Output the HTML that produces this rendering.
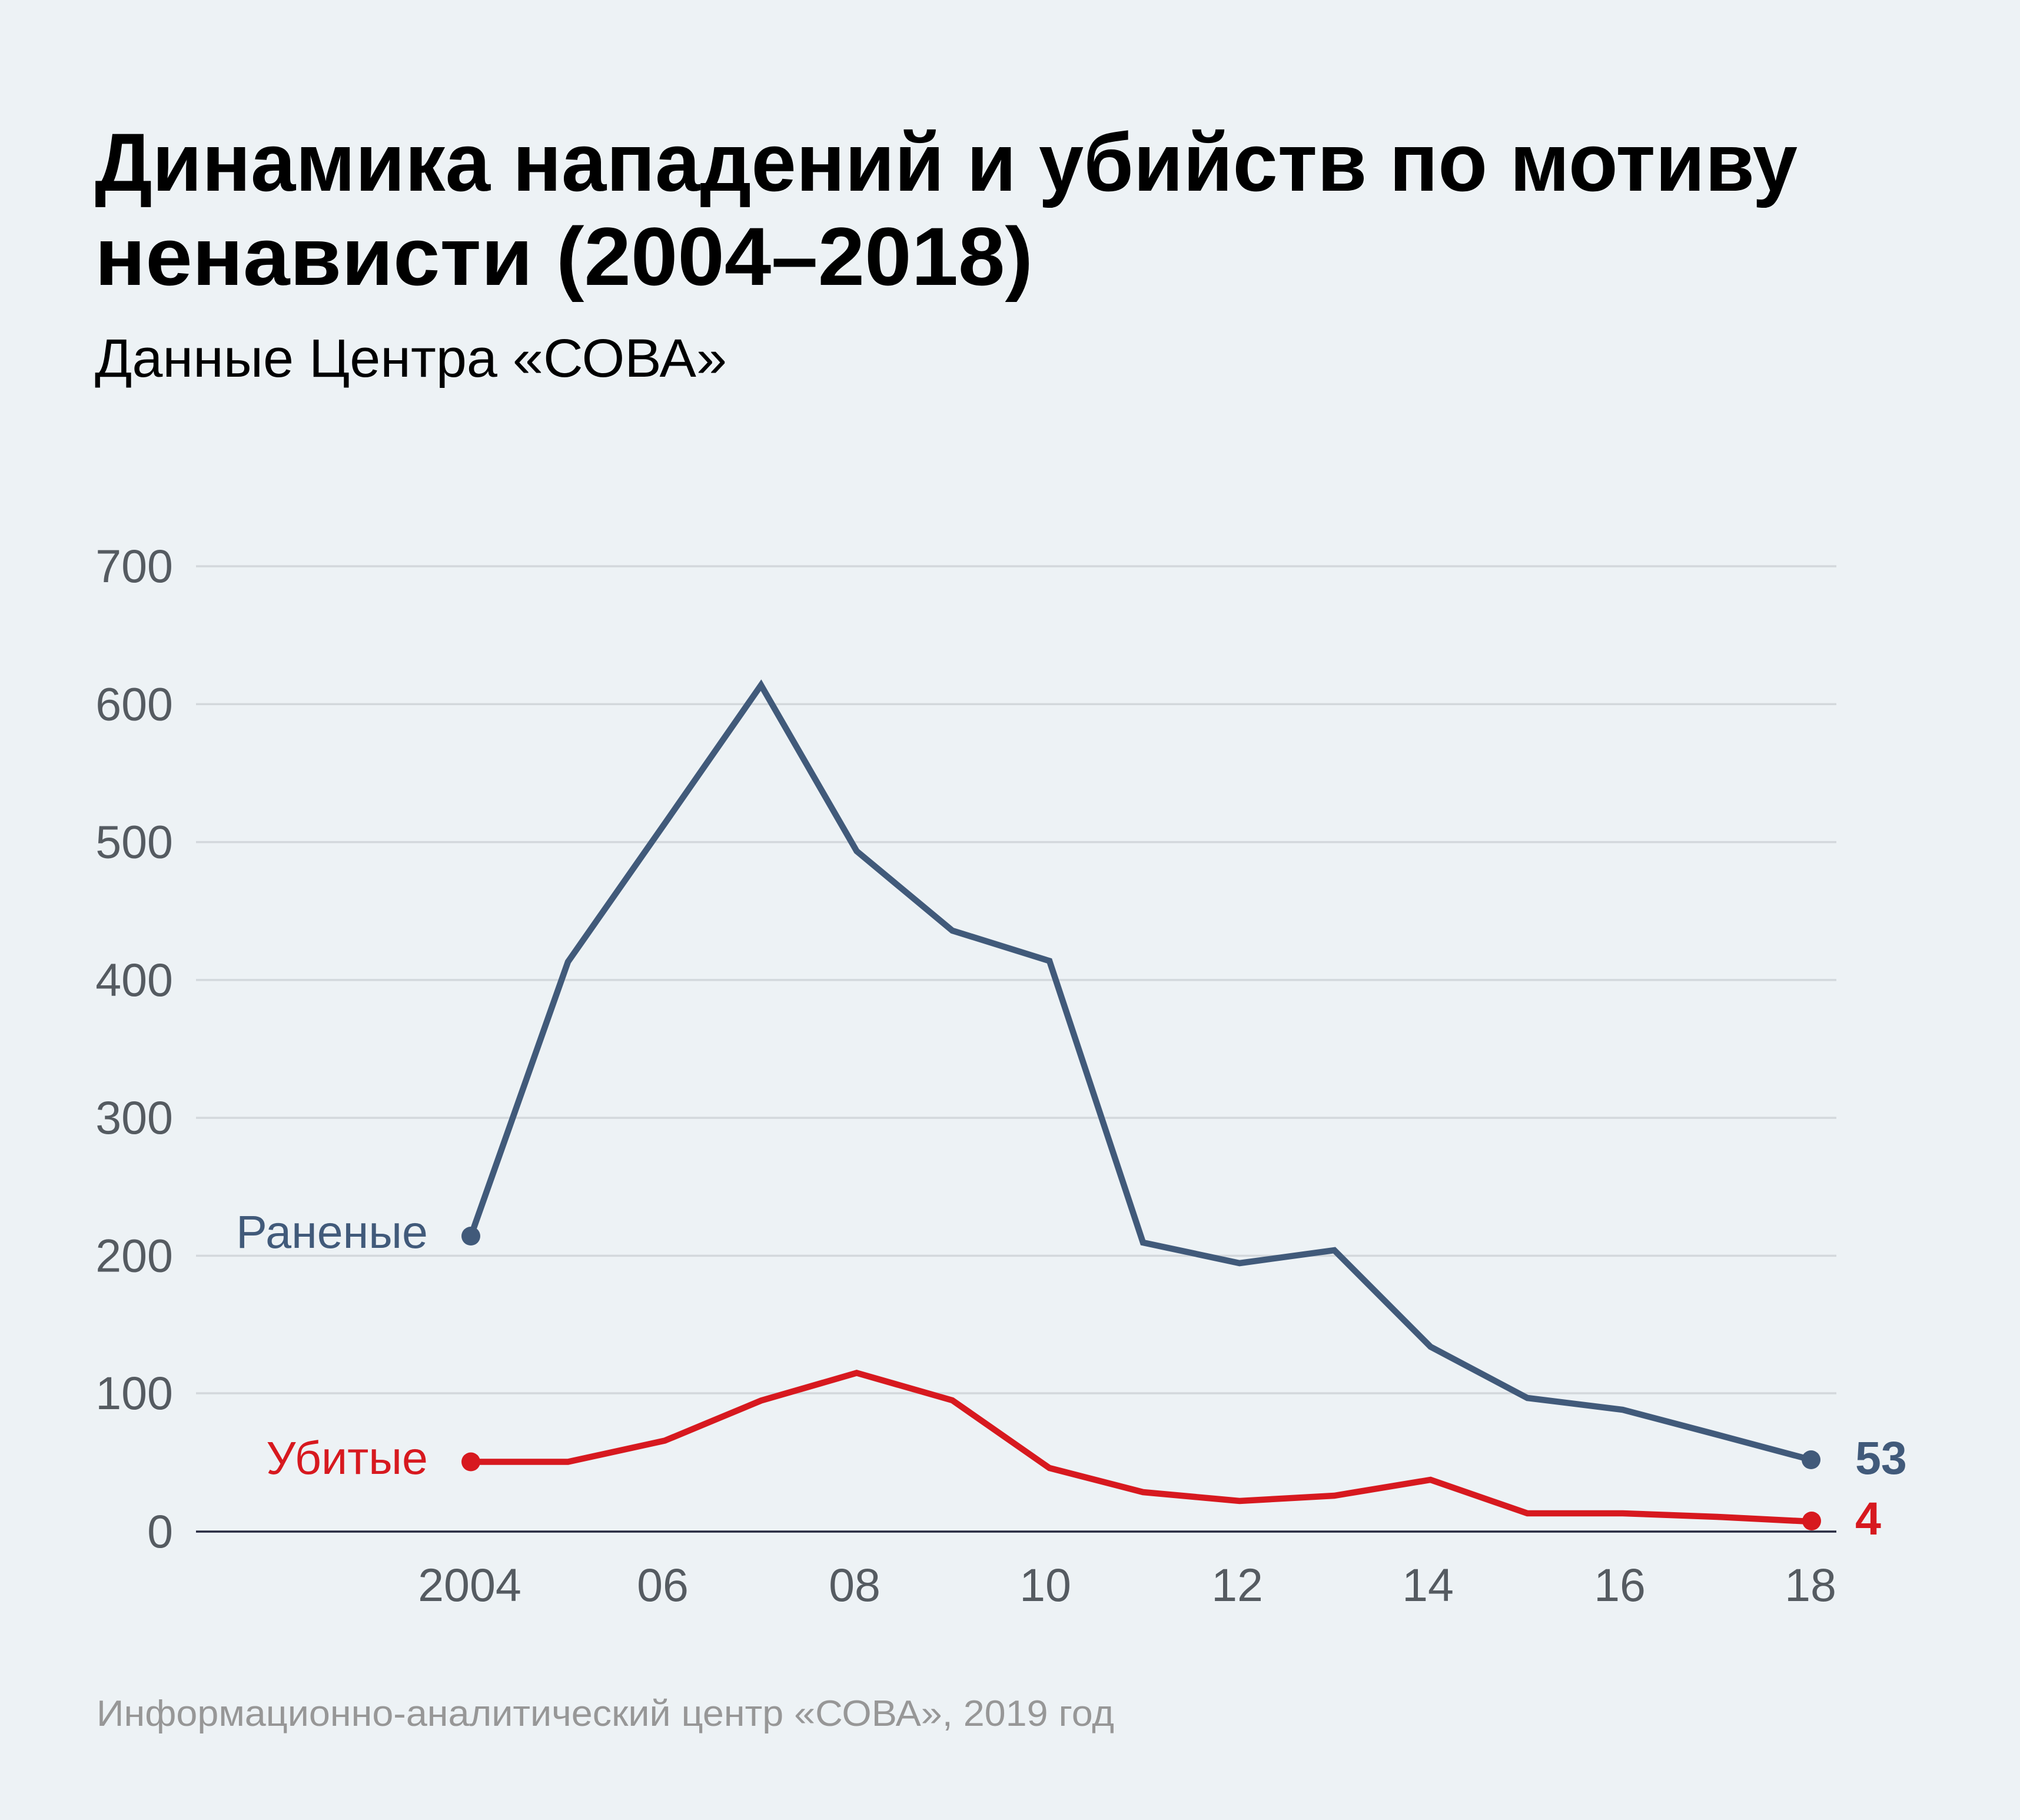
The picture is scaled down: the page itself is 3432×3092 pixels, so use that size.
<!DOCTYPE html>
<html>
<head>
<meta charset="utf-8">
<style>
  html, body { margin: 0; padding: 0; background: #edf2f5; }
  body { width: 3432px; height: 3092px; overflow: hidden; }
  svg { display: block; }
  text { font-family: "Liberation Sans", "DejaVu Sans", sans-serif; }
</style>
</head>
<body>
<svg width="3432" height="3092" viewBox="0 0 3432 3092" xmlns="http://www.w3.org/2000/svg">
  <rect x="0" y="0" width="3432" height="3092" fill="#edf2f5"/>

  <!-- Title -->
  <text x="161" y="324" font-size="140" font-weight="bold" fill="#000" textLength="2893" lengthAdjust="spacingAndGlyphs">Динамика нападений и убийств по мотиву</text>
  <text x="161" y="484" font-size="140" font-weight="bold" fill="#000" textLength="1594" lengthAdjust="spacingAndGlyphs">ненависти (2004–2018)</text>
  <!-- Subtitle -->
  <text x="161" y="640" font-size="92" fill="#000" textLength="1074" lengthAdjust="spacingAndGlyphs">Данные Центра «СОВА»</text>

  <!-- Gridlines -->
  <g stroke="#d3d8dc" stroke-width="3.5">
    <line x1="333" y1="962" x2="3120" y2="962"/>
    <line x1="333" y1="1196.3" x2="3120" y2="1196.3"/>
    <line x1="333" y1="1430.6" x2="3120" y2="1430.6"/>
    <line x1="333" y1="1664.9" x2="3120" y2="1664.9"/>
    <line x1="333" y1="1899.1" x2="3120" y2="1899.1"/>
    <line x1="333" y1="2133.4" x2="3120" y2="2133.4"/>
    <line x1="333" y1="2367" x2="3120" y2="2367"/>
  </g>
  <!-- Zero axis -->
  <line x1="333" y1="2602" x2="3120" y2="2602" stroke="#272a40" stroke-width="3.5"/>

  <!-- Y tick labels -->
  <g font-size="79" fill="#555b61" text-anchor="end">
    <text x="294" y="989">700</text>
    <text x="294" y="1223.3">600</text>
    <text x="294" y="1457.6">500</text>
    <text x="294" y="1691.9">400</text>
    <text x="294" y="1926.1">300</text>
    <text x="294" y="2160.4">200</text>
    <text x="294" y="2394">100</text>
    <text x="294" y="2629">0</text>
  </g>

  <!-- X tick labels -->
  <g font-size="79" fill="#555b61" text-anchor="middle">
    <text x="798" y="2720">2004</text>
    <text x="1126" y="2720">06</text>
    <text x="1452" y="2720">08</text>
    <text x="1776" y="2720">10</text>
    <text x="2102" y="2720">12</text>
    <text x="2426" y="2720">14</text>
    <text x="2752" y="2720">16</text>
    <text x="3076" y="2720">18</text>
  </g>

  <!-- Injured series (blue) -->
  <polyline fill="none" stroke="#415a7a" stroke-width="10.5" stroke-linejoin="miter" stroke-miterlimit="10"
    points="800,2100 965,1634 1129.5,1399 1293,1164 1455.5,1446 1618,1581 1783,1632.5 1942,2111 2106,2146 2267,2124 2430.5,2288 2595,2375 2757,2395 2918,2437.5 3077,2480"/>
  <circle cx="800" cy="2100" r="16" fill="#415a7a"/>
  <circle cx="3077" cy="2480" r="16" fill="#415a7a"/>

  <!-- Killed series (red) -->
  <polyline fill="none" stroke="#d7191f" stroke-width="10.5" stroke-linejoin="miter" stroke-miterlimit="10"
    points="800,2483.5 965,2483.5 1129.5,2447.5 1293,2379.5 1455.5,2332.5 1618,2379 1783,2494 1942,2535 2106,2550 2267,2541 2430.5,2514 2595,2571 2757,2571 2918,2577 3077,2585"/>
  <circle cx="800" cy="2483.5" r="16" fill="#d7191f"/>
  <circle cx="3078" cy="2584" r="16" fill="#d7191f"/>

  <!-- Series labels -->
  <text x="727" y="2120" font-size="79" fill="#415a7a" text-anchor="end">Раненые</text>
  <text x="727" y="2504" font-size="79" fill="#d7191f" text-anchor="end">Убитые</text>

  <!-- End values -->
  <text x="3152" y="2504" font-size="79" font-weight="bold" fill="#415a7a">53</text>
  <text x="3152" y="2607" font-size="79" font-weight="bold" fill="#d7191f">4</text>

  <!-- Footer -->
  <text x="164" y="2932" font-size="62" fill="#979797" textLength="1729" lengthAdjust="spacingAndGlyphs">Информационно-аналитический центр «СОВА», 2019 год</text>
</svg>
</body>
</html>
